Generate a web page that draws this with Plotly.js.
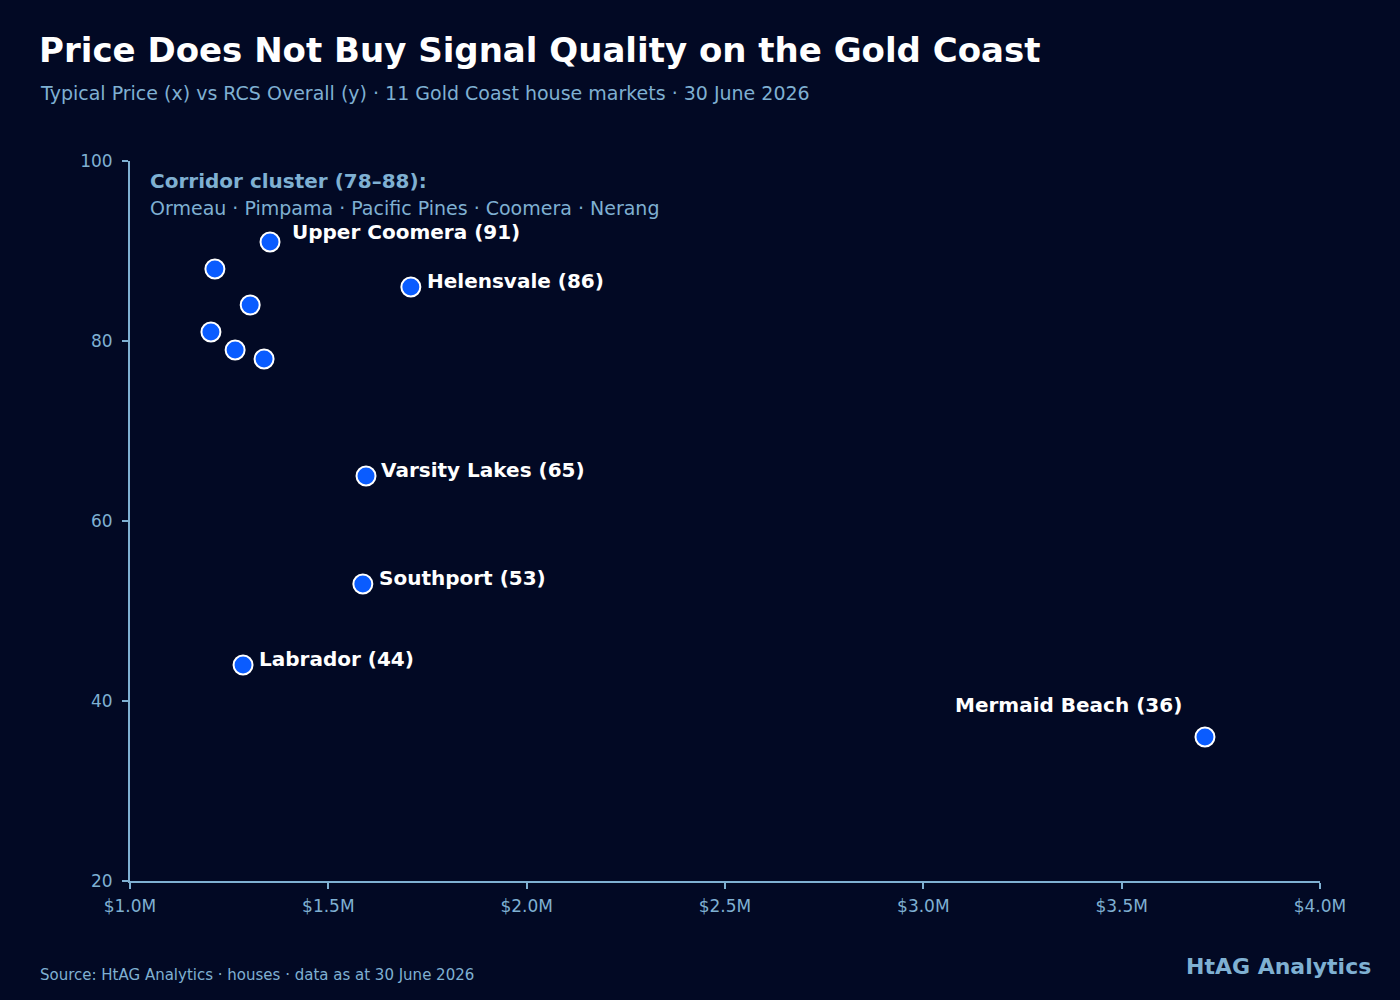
<!DOCTYPE html>
<html>
<head>
<meta charset="utf-8">
<script src="https://cdn.plot.ly/plotly-3.0.1.min.js"></script>
<style>
  html, body { margin: 0; padding: 0; background: #020924; }
  #chart { width: 1400px; height: 1000px; }
</style>
</head>
<body>
<div id="chart"></div>
<script>
// ---- Data (typical price in $M, RCS Overall score) ----
const suburbs = ["Upper Coomera", "Helensvale", "Ormeau", "Pimpama", "Pacific Pines", "Coomera", "Nerang", "Varsity Lakes", "Southport", "Labrador", "Mermaid Beach"];
const pricesM = [1.353, 1.708, 1.214, 1.303, 1.204, 1.265, 1.338, 1.595, 1.587, 1.285, 3.710];
const rcsScores = [91, 86, 88, 84, 81, 79, 78, 65, 53, 44, 36];
const labelledSuburbs = ["Upper Coomera", "Helensvale", "Varsity Lakes", "Southport", "Labrador", "Mermaid Beach"];
const corridorSuburbs = ["Ormeau", "Pimpama", "Pacific Pines", "Coomera", "Nerang"];
const corridorRange = [78, 88];
const xTickVals = [1.0, 1.5, 2.0, 2.5, 3.0, 3.5, 4.0];
const xTickText = ["$1.0M", "$1.5M", "$2.0M", "$2.5M", "$3.0M", "$3.5M", "$4.0M"];
const yTickVals = [20, 40, 60, 80, 100];

// ---- Styling ----
const BG = "#020924";
const MUTED = "#7fb0d2";
const FONT = "DejaVu Sans, Verdana, sans-serif";

// label placement offsets (pixels)
const labelStyle = {
  "Upper Coomera": {side: "right", dx: 20, dy: 10},
  "Helensvale": {side: "right", dx: 14, dy: 6},
  "Varsity Lakes": {side: "right", dx: 13, dy: 6},
  "Southport": {side: "right", dx: 14, dy: 6},
  "Labrador": {side: "right", dx: 14, dy: 6},
  "Mermaid Beach": {side: "left", dx: -21, dy: 32}
};

const trace = {
  type: "scatter",
  mode: "markers",
  x: pricesM,
  y: rcsScores,
  text: suburbs,
  hoverinfo: "text+x+y",
  marker: {size: 19, color: "#0a5cff", line: {color: "#ffffff", width: 2}},
  cliponaxis: false
};

const annotations = [];
labelledSuburbs.forEach(name => {
  const i = suburbs.indexOf(name);
  const s = labelStyle[name];
  annotations.push({
    x: pricesM[i], y: rcsScores[i], xref: "x", yref: "y",
    text: "<b>" + name + " (" + rcsScores[i] + ")</b>",
    showarrow: false,
    xanchor: s.side === "right" ? "left" : "right",
    yanchor: "middle",
    xshift: s.dx, yshift: s.dy,
    font: {family: FONT, size: 20, color: "#ffffff"}
  });
});

// Corridor cluster note
annotations.push({
  x: 0.0151, y: 0.972, xref: "paper", yref: "paper",
  text: "<b>Corridor cluster (" + corridorRange[0] + "–" + corridorRange[1] + "):</b>",
  showarrow: false, xanchor: "left", yanchor: "middle",
  font: {family: FONT, size: 20, color: MUTED}
});
annotations.push({
  x: 0.0151, y: 0.935, xref: "paper", yref: "paper",
  text: corridorSuburbs.join(" · "),
  showarrow: false, xanchor: "left", yanchor: "middle",
  font: {family: FONT, size: 19, color: MUTED}
});

// Subtitle
annotations.push({
  x: -0.0773, y: 1.0944, xref: "paper", yref: "paper",
  text: "Typical Price (x) vs RCS Overall (y) · 11 Gold Coast house markets · 30 June 2026",
  showarrow: false, xanchor: "left", yanchor: "middle",
  font: {family: FONT, size: 19, color: MUTED}
});
// Source
annotations.push({
  x: -0.0773, y: -0.1306, xref: "paper", yref: "paper",
  text: "Source: HtAG Analytics · houses · data as at 30 June 2026",
  showarrow: false, xanchor: "left", yanchor: "middle",
  font: {family: FONT, size: 15, color: MUTED}
});
// Brand
annotations.push({
  x: 1.0445, y: -0.1194, xref: "paper", yref: "paper",
  text: "<b>HtAG Analytics</b>",
  showarrow: false, xanchor: "right", yanchor: "middle",
  font: {family: FONT, size: 22, color: MUTED}
});

const layout = {
  width: 1400, height: 1000,
  paper_bgcolor: BG, plot_bgcolor: BG,
  margin: {l: 130, r: 80, t: 161, b: 119},
  showlegend: false,
  title: {
    text: "<b>Price Does Not Buy Signal Quality on the Gold Coast</b>",
    xref: "container", yref: "container",
    x: 0.0279, xanchor: "left", y: 0.95, yanchor: "middle",
    font: {family: FONT, size: 34, color: "#ffffff"}
  },
  xaxis: {
    range: [1.0, 4.0],
    tickvals: xTickVals, ticktext: xTickText,
    showgrid: false, zeroline: false,
    showline: true, linecolor: MUTED, linewidth: 2,
    ticks: "outside", ticklen: 6, tickwidth: 2, tickcolor: MUTED,
    ticklabelstandoff: 3,
    tickfont: {family: FONT, size: 17, color: MUTED}
  },
  yaxis: {
    range: [20, 100],
    tickvals: yTickVals,
    showgrid: false, zeroline: false,
    showline: true, linecolor: MUTED, linewidth: 2,
    ticks: "outside", ticklen: 6, tickwidth: 2, tickcolor: MUTED,
    ticklabelstandoff: 6,
    tickfont: {family: FONT, size: 17, color: MUTED}
  },
  annotations: annotations,
  hovermode: "closest"
};

Plotly.newPlot("chart", [trace], layout, {displayModeBar: false, responsive: false});
</script>
</body>
</html>
